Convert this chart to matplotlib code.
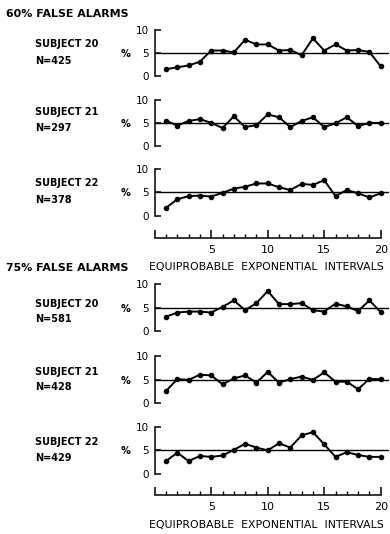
import matplotlib
matplotlib.use("Agg")
import matplotlib.pyplot as plt
from matplotlib import font_manager
from matplotlib.ticker import MultipleLocator

#-------data-------
intervals = list(range(1, 21))
xTicks = [0, 5, 10, 15, 20]
xTickLabels = ["", "5", "10", "15", "20"]
yTicks = [0, 5, 10]
yTickLabels = ["0", "5", "10"]
chanceLevel = 5

conditions = ["60% FALSE ALARMS", "75% FALSE ALARMS"]
subjects = ["SUBJECT 20", "SUBJECT 21", "SUBJECT 22"]
nTrials60 = [425, 297, 378]
nTrials75 = [581, 428, 429]

s20_60 = [1.5, 1.9, 2.3, 3.1, 5.5, 5.5, 5.1, 7.8, 6.8, 6.8, 5.5, 5.6, 4.5, 8.1, 5.5, 6.8, 5.5, 5.6, 5.2, 2.1]
s21_60 = [5.5, 4.4, 5.4, 5.8, 5.0, 3.9, 6.4, 4.1, 4.5, 6.8, 6.2, 4.1, 5.4, 6.2, 4.1, 4.9, 6.2, 4.3, 5.0, 5.0]
s22_60 = [1.7, 3.5, 4.2, 4.3, 4.1, 4.9, 5.8, 6.2, 6.9, 6.9, 6.1, 5.5, 6.8, 6.6, 7.6, 4.2, 5.5, 4.8, 3.9, 4.8]
s20_75 = [3.1, 4.0, 4.2, 4.2, 4.0, 5.2, 6.6, 4.5, 6.0, 8.6, 5.8, 5.8, 6.0, 4.5, 4.2, 5.9, 5.3, 4.3, 6.6, 4.1]
s21_75 = [2.6, 5.15, 5.0, 6.1, 5.95, 4.05, 5.3, 5.95, 4.4, 6.7, 4.4, 5.15, 5.7, 5.0, 6.6, 4.6, 4.6, 3.0, 5.2, 5.15]
s22_75 = [2.7, 4.5, 2.7, 3.8, 3.6, 3.9, 5.1, 6.4, 5.6, 5.0, 6.5, 5.6, 8.2, 8.9, 6.3, 3.6, 4.6, 4.0, 3.6, 3.6]

#-------layout (pixels, measured from top-left)-------
W, H = 390, 534
axLeft = 154.7
pxPerUnit = 11.3
xMax = 20.75
panelH = 46.7
groups = [
    {"title": conditions[0], "titleY": 14, "n": nTrials60,
     "series": [s20_60, s21_60, s22_60], "tops": [29.5, 99.5, 169.0],
     "labelDy": [(-8.5, 8.5), (-11.0, 5.0), (-9.0, 7.5)], "axisY": 238, "xlabelY": 267},
    {"title": conditions[1], "titleY": 268, "n": nTrials75,
     "series": [s20_75, s21_75, s22_75], "tops": [284.5, 356.5, 427.0],
     "labelDy": [(-4.0, 11.5), (-7.5, 7.5), (-8.5, 7.5)], "axisY": 495, "xlabelY": 525},
]

names = {f.name for f in font_manager.fontManager.ttflist}
letterFont = "Liberation Sans Narrow" if "Liberation Sans Narrow" in names else "DejaVu Sans"
condensed = letterFont != "DejaVu Sans"


def fx(x):
    return x / W


def fy(y):
    return 1 - y / H


def addAxes(left, top, width, height):
    return fig.add_axes([fx(left), fy(top + height), width / W, height / H])


fig = plt.figure(figsize=(W / 100, H / 100), dpi=100)
fig.patch.set_facecolor("white")

titleSize = 9.6 if condensed else 7.9
labelSize = 8.6 if condensed else 7.0

for g in groups:
    fig.text(fx(6), fy(g["titleY"]), g["title"], fontsize=titleSize, fontweight="bold",
             family=letterFont, ha="left", va="center")
    for i, top in enumerate(g["tops"]):
        ax = addAxes(axLeft, top, xMax * pxPerUnit, panelH)
        ax.axhline(chanceLevel, color="black", lw=1.0)
        ax.plot(intervals, g["series"][i], color="black", lw=1.4,
                marker="o", markersize=3.0, clip_on=False)
        ax.set_xlim(0, xMax)
        ax.set_ylim(0, 10)
        ax.set_xticks([])
        ax.set_yticks(yTicks)
        ax.set_yticklabels(yTickLabels, fontsize=7.5, family="DejaVu Sans")
        ax.tick_params(axis="y", direction="in", length=4, width=1.1, pad=4)
        for side in ["top", "right", "bottom"]:
            ax.spines[side].set_visible(False)
        ax.spines["left"].set_linewidth(1.1)
        ax.patch.set_alpha(0)

        midY = top + panelH / 2
        dyS, dyN = g["labelDy"][i]
        fig.text(fx(35), fy(midY + dyS), subjects[i], fontsize=labelSize, fontweight="bold",
                 family=letterFont, ha="left", va="center")
        fig.text(fx(35), fy(midY + dyN), "N=%d" % g["n"][i], fontsize=labelSize, fontweight="bold",
                 family=letterFont, ha="left", va="center")
        fig.text(fx(125), fy(midY + 1), "%", fontsize=labelSize, fontweight="bold",
                 family=letterFont, ha="center", va="center")

    # shared interval axis under each group
    xax = addAxes(axLeft, g["axisY"] - 10, 20 * pxPerUnit, 10)
    xax.set_xlim(0, 20)
    xax.set_ylim(0, 1)
    xax.set_yticks([])
    xax.set_xticks(xTicks)
    xax.set_xticklabels(xTickLabels, fontsize=8, family="DejaVu Sans")
    xax.xaxis.set_minor_locator(MultipleLocator(1))
    xax.tick_params(axis="x", which="major", direction="in", length=6, width=1.1, pad=5)
    xax.tick_params(axis="x", which="minor", direction="in", length=3, width=1.0)
    for side in ["top", "right", "left"]:
        xax.spines[side].set_visible(False)
    xax.spines["bottom"].set_linewidth(1.1)
    xax.patch.set_alpha(0)
    fig.text(fx(266), fy(g["xlabelY"]), "EQUIPROBABLE  EXPONENTIAL  INTERVALS",
             fontsize=7.8, family="DejaVu Sans", ha="center", va="center")

fig.savefig("out.png", dpi=100)
